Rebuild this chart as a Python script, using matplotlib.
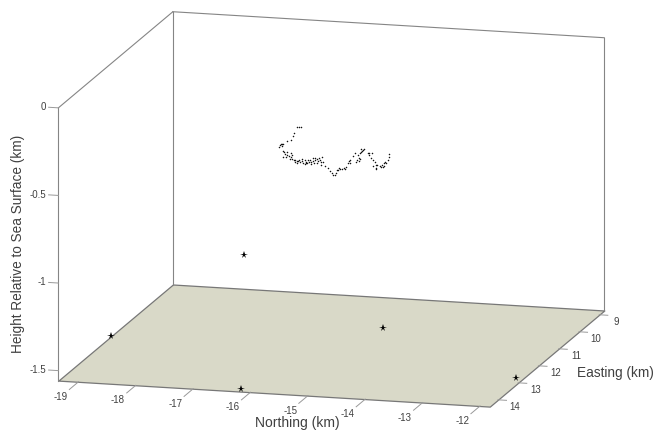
import matplotlib
matplotlib.use('Agg')
import matplotlib.pyplot as plt
from mpl_toolkits.mplot3d import proj3d
from mpl_toolkits.mplot3d.art3d import Poly3DCollection

plt.rcParams['font.family'] = ['Liberation Sans', 'DejaVu Sans']

# axis ranges and ticks
north_lim = (-19.35, -11.83)
east_lim = (14.4, 8.75)
height_lim = (-1.557, 0.0)
north_ticks = [-19, -18, -17, -16, -15, -14, -13, -12]
east_ticks = [9, 10, 11, 12, 13, 14]
height_ticks = [0, -0.5, -1, -1.5]
height_labels = ['0', '-0.5', '-1', '-1.5']

# hydrophones (stars)
star_north = [-17.67, -19.35, -14.72, -16.17, -11.83]
star_east = [10.0, 11.8, 11.5, 14.4, 13.11]
star_height = [-1.235, -1.557, -1.446, -1.54, -1.52]

# track
track_east = 11.0
track_north = [-16.40, -16.36, -16.33, -16.44, -16.46, -16.50, -16.56, -16.63, -16.66, -16.68,
               -16.70, -16.65, -16.63, -16.62, -16.56, -16.49, -16.48, -16.63, -16.56, -16.59,
               -16.52, -16.47, -16.45, -16.43, -16.40, -16.36, -16.34, -16.30, -16.28, -16.26,
               -16.23, -16.20, -16.17, -16.12, -16.11, -16.08, -16.05, -16.02, -15.99, -15.95,
               -15.97, -15.93, -15.98, -16.14, -16.18, -16.26, -16.31, -16.37, -15.91, -15.85,
               -15.82, -15.79, -15.76, -15.73, -15.72, -15.69, -15.66, -15.64, -15.60, -15.56,
               -15.53, -15.50, -15.49, -15.46, -15.42, -15.38, -15.37, -15.35, -15.31, -15.33,
               -15.30, -15.27, -15.26, -15.23, -15.30, -15.16, -15.13, -15.09, -15.11, -15.07,
               -15.04, -15.06, -15.02, -15.00, -14.95, -14.91, -14.88, -14.85, -14.81, -14.79,
               -14.78, -14.93, -15.01, -14.84,
               -16.60, -16.53, -16.49, -16.43, -16.39, -16.22, -16.10, -16.04, -16.07, -16.01,
               -16.15, -16.24, -15.47, -15.31, -15.27, -15.24, -15.14, -15.02, -14.90, -14.87,
               -16.67, -15.68, -15.57]
track_height = [-0.384, -0.382, -0.379, -0.414, -0.435, -0.459, -0.467, -0.480, -0.486, -0.492,
                -0.500, -0.494, -0.524, -0.531, -0.526, -0.531, -0.542, -0.556, -0.543, -0.559,
                -0.567, -0.564, -0.573, -0.581, -0.578, -0.568, -0.581, -0.576, -0.585, -0.590,
                -0.575, -0.568, -0.564, -0.550, -0.572, -0.562, -0.556, -0.567, -0.561, -0.546,
                -0.573, -0.573, -0.589, -0.588, -0.579, -0.566, -0.563, -0.574, -0.597, -0.606,
                -0.620, -0.633, -0.643, -0.641, -0.631, -0.615, -0.601, -0.607, -0.606, -0.603,
                -0.593, -0.570, -0.556, -0.550, -0.530, -0.507, -0.563, -0.548, -0.538, -0.519,
                -0.509, -0.486, -0.495, -0.481, -0.541, -0.506, -0.515, -0.505, -0.530, -0.542,
                -0.557, -0.580, -0.589, -0.573, -0.578, -0.568, -0.573, -0.548, -0.541, -0.522,
                -0.502, -0.581, -0.594, -0.557,
                -0.541, -0.552, -0.555, -0.569, -0.584, -0.584, -0.581, -0.577, -0.549, -0.551,
                -0.574, -0.581, -0.570, -0.551, -0.499, -0.489, -0.502, -0.570, -0.581, -0.558,
                -0.481, -0.612, -0.600]

line_col = '#858585'
tick_col = '#999999'
text_col = '#404040'

fig = plt.figure(figsize=(6.54, 4.30), dpi=100)
ax = fig.add_axes([-11.7 / 654, -122.2 / 430, 668 / 654, 668 / 430], projection='3d',
                  proj_type='ortho', computed_zorder=False)
ax.view_init(elev=13, azim=-75)
ax.set_box_aspect((448.3, 444, 281))
ax.set_xlim(north_lim)
ax.set_ylim(east_lim)
ax.set_zlim(height_lim)
ax.set_axis_off()

n0, n1 = north_lim
e_front, e_back = east_lim
z0, z1 = height_lim


def label3d(x, y, z, s, ha='center'):
    # project the tick position so the label stays plain 2D text
    px, py, _ = proj3d.proj_transform(x, y, z, ax.get_proj())
    ax.text2D(px, py, s, transform=ax.transData, fontsize=7, color=text_col,
              ha=ha, va='center', clip_on=False)


# floor
floor = Poly3DCollection([[(n0, e_front, z0), (n1, e_front, z0), (n1, e_back, z0), (n0, e_back, z0)]],
                         facecolor='#d9d9c8', edgecolor='#777777', linewidth=0.9, zorder=1)
ax.add_collection3d(floor)

# box edges
for xs, ys, zs in [((n0, n0), (e_front, e_front), (z0, z1)),
                   ((n0, n0), (e_back, e_back), (z0, z1)),
                   ((n1, n1), (e_back, e_back), (z0, z1)),
                   ((n0, n0), (e_front, e_back), (z1, z1)),
                   ((n0, n1), (e_back, e_back), (z1, z1))]:
    ax.plot(xs, ys, zs, color=line_col, lw=0.8, zorder=2)

# ticks
for n in north_ticks:
    ax.plot([n, n], [e_front, e_front + 0.45], [z0, z0], color=tick_col, lw=0.7, zorder=2)
    label3d(n, e_front + 0.88, z0, str(n))
for e in east_ticks:
    ax.plot([n1, n1 + 0.15], [e, e], [z0, z0], color=tick_col, lw=0.7, zorder=2)
    label3d(n1 + 0.3, e, z0 - 0.035, str(e))
for z, lab in zip(height_ticks, height_labels):
    ax.plot([n0, n0 - 0.17], [e_front, e_front], [z, z], color=tick_col, lw=0.7, zorder=2)
    label3d(n0 - 0.22, e_front, z, lab, ha='right')

# data
ax.plot(track_north, [track_east] * len(track_north), track_height, ls='none', marker='.',
        ms=2.2, mew=0, color='#111111', zorder=3)
ax.plot(star_north, star_east, star_height, ls='none', marker='*', ms=5.5, mew=0, color='black', zorder=4)

# axis labels
fig.text(297 / 654, 1 - 423 / 430, 'Northing (km)', fontsize=10, color=text_col, ha='center', va='center')
fig.text(615 / 654, 1 - 373 / 430, 'Easting (km)', fontsize=9.8, color=text_col, ha='center', va='center')
fig.text(18 / 654, 1 - 244 / 430, 'Height Relative to Sea Surface (km)', fontsize=9.8, color=text_col,
         rotation=90, ha='center', va='center')

fig.savefig('out.png', dpi=100)
